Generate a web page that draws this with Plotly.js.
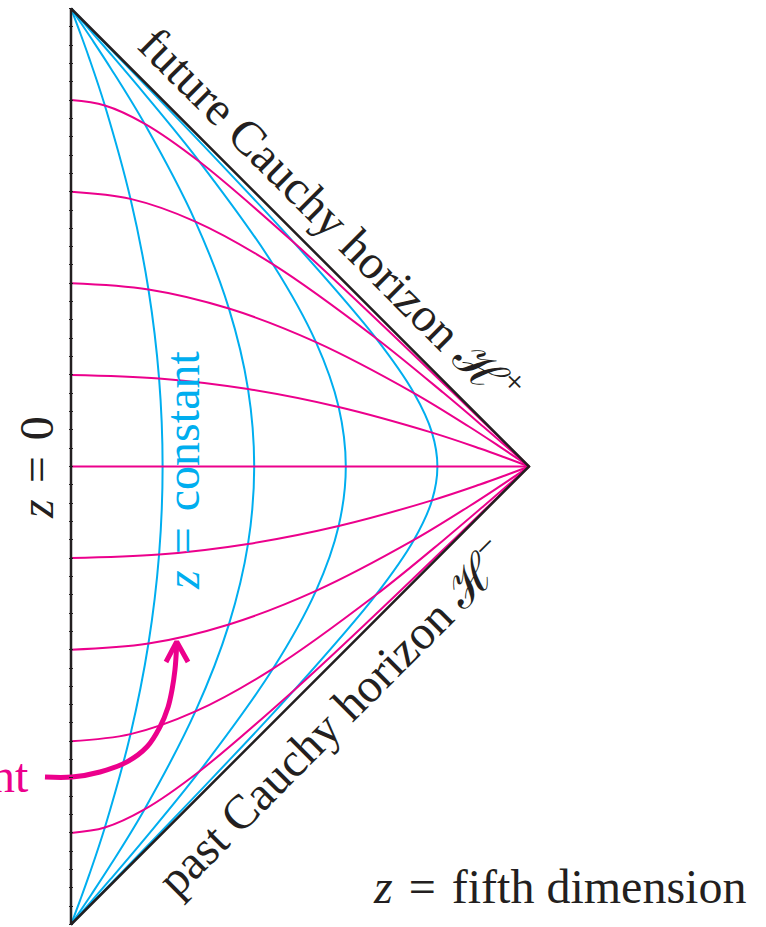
<!DOCTYPE html>
<html>
<head>
<meta charset="utf-8">
<script src="https://cdn.plot.ly/plotly-3.0.1.min.js"></script>
<style>html,body{margin:0;padding:0;background:#fff;}#chart{width:766px;height:927px;}</style>
</head>
<body>
<div id="chart"></div>
<script>
// Diagram coordinates: X = horizontal (0 at z=0 edge, 1 at right vertex), Y = vertical (-1..1)

// Blue curves: z = constant
const blue1X = [0, 0.0082, 0.0202, 0.0393, 0.0739, 0.1299, 0.1691, 0.1923, 0.2, 0.1923, 0.1691, 0.1299, 0.0739, 0.0393, 0.0202, 0.0082, 0];
const blue1Y = [1, 0.9784, 0.9462, 0.8929, 0.7882, 0.5844, 0.3865, 0.1923, 0, -0.1923, -0.3865, -0.5844, -0.7882, -0.8929, -0.9462, -0.9784, -1];
const blue2X = [0, 0.0187, 0.0456, 0.0873, 0.1604, 0.2716, 0.3448, 0.3865, 0.4, 0.3865, 0.3448, 0.2716, 0.1604, 0.0873, 0.0456, 0.0187, 0];
const blue2Y = [1, 0.9727, 0.9327, 0.8686, 0.7487, 0.5348, 0.3448, 0.1691, 0, -0.1691, -0.3448, -0.5348, -0.7487, -0.8686, -0.9327, -0.9727, -1];
const blue3X = [0, 0.0363, 0.0867, 0.1609, 0.2807, 0.4412, 0.5348, 0.5844, 0.6, 0.5844, 0.5348, 0.4412, 0.2807, 0.1609, 0.0867, 0.0363, 0];
const blue3Y = [1, 0.9586, 0.9006, 0.8131, 0.6653, 0.4412, 0.2716, 0.1299, 0, -0.1299, -0.2716, -0.4412, -0.6653, -0.8131, -0.9006, -0.9586, -1];
const blue4X = [0, 0.0427, 0.0822, 0.1847, 0.3156, 0.4878, 0.6653, 0.7487, 0.7882, 0.8, 0.7882, 0.7487, 0.6653, 0.4878, 0.3156, 0.1847, 0.0822, 0.0427, 0];
const blue4Y = [1, 0.9563, 0.9156, 0.8097, 0.6728, 0.4878, 0.2807, 0.1604, 0.0739, 0, -0.0739, -0.1604, -0.2807, -0.4878, -0.6728, -0.8097, -0.9156, -0.9563, -1];

// Magenta curves: t = constant
const mag08X = [0, 0.0739, 0.1604, 0.2807, 0.4878, 0.6728, 0.8097, 0.9156, 0.9563, 1];
const mag08Y = [0.8, 0.7882, 0.7487, 0.6653, 0.4878, 0.3156, 0.1847, 0.0822, 0.0427, 0];
const mag06X = [0, 0.1299, 0.2716, 0.4412, 0.6653, 0.8131, 0.9006, 0.9586, 1];
const mag06Y = [0.6, 0.5844, 0.5348, 0.4412, 0.2807, 0.1609, 0.0867, 0.0363, 0];
const mag04X = [0, 0.1691, 0.3448, 0.5348, 0.7487, 0.8686, 0.9327, 0.9727, 1];
const mag04Y = [0.4, 0.3865, 0.3448, 0.2716, 0.1604, 0.0873, 0.0456, 0.0187, 0];
const mag02X = [0, 0.1923, 0.3865, 0.5844, 0.7882, 0.8929, 0.9462, 0.9784, 1];
const mag02Y = [0.2, 0.1923, 0.1691, 0.1299, 0.0739, 0.0393, 0.0202, 0.0082, 0];
const mag00X = [0, 1];
const mag00Y = [0, 0];
const magm02Y = [-0.2, -0.1923, -0.1691, -0.1299, -0.0739, -0.0393, -0.0202, -0.0082, 0];
const magm04Y = [-0.4, -0.3865, -0.3448, -0.2716, -0.1604, -0.0873, -0.0456, -0.0187, 0];
const magm06Y = [-0.6, -0.5844, -0.5348, -0.4412, -0.2807, -0.1609, -0.0867, -0.0363, 0];
const magm08Y = [-0.8, -0.7882, -0.7487, -0.6653, -0.4878, -0.3156, -0.1847, -0.0822, -0.0427, 0];

// Boundary of the diagram
const edgeX = [0, 1, 0, 0];
const edgeY = [1, 0, -1, 1];

// Arrow (t = constant pointer)
const arrowX = [-0.0568, 0.0022, 0.0633, 0.1223, 0.166, 0.194, 0.212, 0.2205, 0.227, 0.2308];
const arrowY = [-0.678, -0.678, -0.667, -0.645, -0.612, -0.569, -0.525, -0.488, -0.444, -0.39];
const headX = [0.2074, 0.2308, 0.2555];
const headY = [-0.4269, -0.3825, -0.4269];

const BLUE = '#00AEEF', MAG = '#EC008C', BLK = '#231F20';
const FONT = 'Liberation Serif, Times New Roman, serif';
const SP = '\u2004';

const traces = [];
[[blue1X, blue1Y], [blue2X, blue2Y], [blue3X, blue3Y], [blue4X, blue4Y]].forEach(function (c) {
  traces.push({x: c[0], y: c[1], mode: 'lines', line: {color: BLUE, width: 2, shape: 'spline'}, hoverinfo: 'skip'});
});
[[mag08X, mag08Y], [mag06X, mag06Y], [mag04X, mag04Y], [mag02X, mag02Y], [mag00X, mag00Y],
 [mag02X, magm02Y], [mag04X, magm04Y], [mag06X, magm06Y], [mag08X, magm08Y]].forEach(function (c) {
  traces.push({x: c[0], y: c[1], mode: 'lines', line: {color: MAG, width: 2, shape: 'spline'}, hoverinfo: 'skip'});
});
traces.push({x: edgeX, y: edgeY, mode: 'lines', line: {color: BLK, width: 2.5}, hoverinfo: 'skip'});
traces.push({x: arrowX, y: arrowY, mode: 'lines', line: {color: MAG, width: 5, shape: 'spline'}, hoverinfo: 'skip'});
traces.push({x: headX, y: headY, mode: 'lines', line: {color: MAG, width: 5}, hoverinfo: 'skip'});

const layout = {
  width: 766, height: 927, autosize: false,
  margin: {l: 0, r: 0, t: 0, b: 0, pad: 0},
  paper_bgcolor: '#fff', plot_bgcolor: '#fff',
  showlegend: false,
  xaxis: {range: [-0.15502, 1.51747], visible: false, fixedrange: true},
  yaxis: {range: [-1.00546, 1.01856], showgrid: false, zeroline: false, showline: false,
          showticklabels: false, ticks: 'outside', ticklen: 4, tickwidth: 1, tickcolor: BLK,
          tick0: 0, dtick: 0.04, anchor: 'free', position: 72.5 / 766, fixedrange: true},
  annotations: [
    {x: 0.5700, y: 0.5500, xref: 'x', yref: 'y', showarrow: false, textangle: 45,
     text: 'future Cauchy horizon ℋ<sup>+</sup>', font: {family: FONT, size: 48, color: BLK}},
    {x: 0.5680, y: -0.5450, xref: 'x', yref: 'y', showarrow: false, textangle: -45,
     text: 'past Cauchy horizon ℋ<sup>−</sup>', font: {family: FONT, size: 48, color: BLK}},
    {x: -0.0764, y: -0.0033, xref: 'x', yref: 'y', showarrow: false, textangle: -90,
     text: '<i>z</i>' + SP + '=' + SP + '0', font: {family: FONT, size: 48, color: BLK}},
    {x: 0.2445, y: -0.0076, xref: 'x', yref: 'y', showarrow: false, textangle: -90,
     text: '<i>z</i>' + SP + '=' + SP + 'constant', font: {family: FONT, size: 48, color: BLUE}},
    {x: 1.0655, y: -0.918, xref: 'x', yref: 'y', showarrow: false,
     text: '<i>z</i>' + SP + '=' + SP + 'fifth dimension', font: {family: FONT, size: 48, color: BLK}},
    {x: -0.0873, y: -0.6736, xref: 'x', yref: 'y', xanchor: 'right', showarrow: false,
     text: '<i>t</i>' + SP + '=' + SP + 'constant', font: {family: FONT, size: 48, color: MAG}}
  ]
};

Plotly.newPlot('chart', traces, layout, {displayModeBar: false, staticPlot: true});
</script>
</body>
</html>
